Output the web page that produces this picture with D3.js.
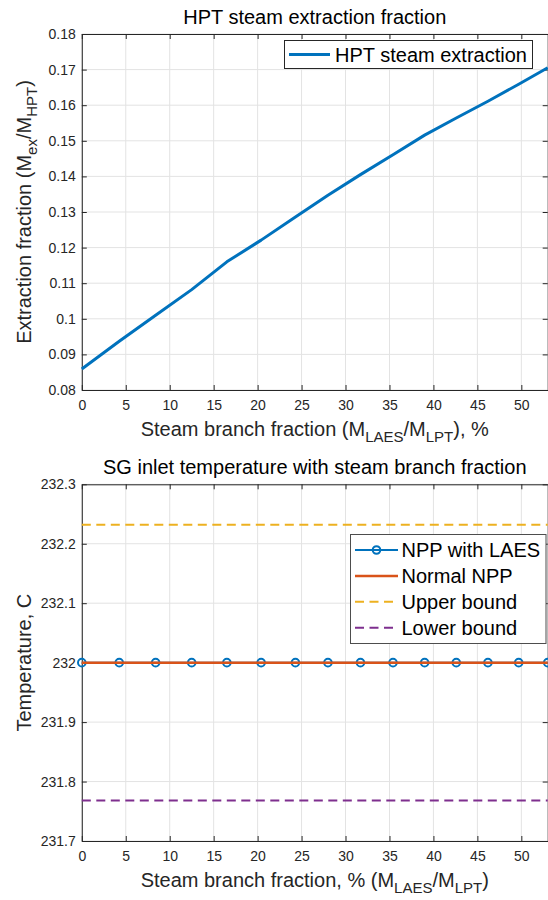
<!DOCTYPE html>
<html>
<head>
<meta charset="utf-8">
<script src="https://cdn.jsdelivr.net/npm/d3@7"></script>
<style>
  body { margin: 0; background: #fff; }
  svg { display: block; font-family: "Liberation Sans", Arial, Helvetica, sans-serif; }
</style>
</head>
<body>
<svg id="fig" width="548" height="900"></svg>
<script>
// Steam branch fraction (%) at each simulated point
const branchFraction = [0, 4.26, 8.4, 12.5, 16.5, 20.4, 24.3, 28.0, 31.7, 35.4, 39.0, 42.6, 46.2, 49.7, 53.0];
// HPT extraction fraction (M_ex / M_HPT)
const hptExtraction = [0.0859, 0.0937, 0.1010, 0.1082, 0.1160, 0.1221, 0.1286, 0.1347, 0.1405, 0.1461, 0.1516, 0.1564, 0.1611, 0.1659, 0.1705];
// SG inlet temperature, C
const sgInletLAES = [232, 232, 232, 232, 232, 232, 232, 232, 232, 232, 232, 232, 232, 232, 232];
const sgInletNormal = [232, 232];
const sgUpperBound = [232.232, 232.232];
const sgLowerBound = [231.768, 231.768];
const boundRange = [0, 53];

const xTicks = [0, 5, 10, 15, 20, 25, 30, 35, 40, 45, 50];
const extractionTicks = [0.08, 0.09, 0.1, 0.11, 0.12, 0.13, 0.14, 0.15, 0.16, 0.17, 0.18];
const temperatureTicks = [231.7, 231.8, 231.9, 232, 232.1, 232.2, 232.3];

// MATLAB default colours
const BLUE = "#0072bd";
const ORANGE = "#d95319";
const YELLOW = "#edb120";
const PURPLE = "#7e2f8e";
const INK = "#262626";
const GRID = "#e3e3e3";

const svg = d3.select("#fig");
svg.append("rect").attr("width", 548).attr("height", 900).attr("fill", "#fff");

const left = 81.8, right = 547.7;
const W = right - left;

function drawPanel(top, bottom, yDomain, yTicks) {
  const H = bottom - top;
  const g = svg.append("g").attr("transform", `translate(${left},${top})`);
  const x = d3.scaleLinear().domain([0, 53]).range([0, W]);
  const y = d3.scaleLinear().domain(yDomain).range([H, 0]);

  // grid
  g.append("g").selectAll("line").data(xTicks).join("line")
    .attr("x1", d => x(d)).attr("x2", d => x(d))
    .attr("y1", 0).attr("y2", H)
    .attr("stroke", GRID).attr("stroke-width", 1);
  g.append("g").selectAll("line").data(yTicks).join("line")
    .attr("x1", 0).attr("x2", W)
    .attr("y1", d => y(d)).attr("y2", d => y(d))
    .attr("stroke", GRID).attr("stroke-width", 1);

  // axes, ticks pointing inward on all four sides
  const style = sel => {
    sel.select(".domain").attr("stroke", INK);
    sel.selectAll(".tick line").attr("stroke", INK);
    sel.selectAll(".tick text").attr("fill", INK).attr("font-size", 14);
  };
  g.append("g").attr("transform", `translate(0,${H})`)
    .call(d3.axisBottom(x).tickValues(xTicks).tickSize(-5).tickSizeOuter(0).tickPadding(10).tickFormat(d => d))
    .call(style);
  g.append("g")
    .call(d3.axisTop(x).tickValues(xTicks).tickSize(-5).tickSizeOuter(0).tickFormat(""))
    .call(style);
  g.append("g")
    .call(d3.axisLeft(y).tickValues(yTicks).tickSize(-5).tickSizeOuter(0).tickPadding(6).tickFormat(d => d))
    .call(style);
  g.append("g").attr("transform", `translate(${W},0)`)
    .call(d3.axisRight(y).tickValues(yTicks).tickSize(-5).tickSizeOuter(0).tickFormat(""))
    .call(style);

  return { g, x, y, H };
}

// subscript-aware text: parts = [[text, isSub], ...]
function richText(sel, parts) {
  let shift = 0;
  parts.forEach(([t, sub]) => {
    const target = sub ? 6 : 0;
    sel.append("tspan")
      .attr("font-size", sub ? 15 : 20)
      .attr("dy", target - shift || null)
      .text(t);
    shift = target;
  });
}

// ---- Top panel: HPT steam extraction fraction ----
const p1 = drawPanel(34, 390, [0.08, 0.18], extractionTicks);

p1.g.append("path")
  .datum(branchFraction.map((d, i) => [d, hptExtraction[i]]))
  .attr("fill", "none")
  .attr("stroke", BLUE)
  .attr("stroke-width", 3)
  .attr("stroke-linejoin", "round")
  .attr("d", d3.line().x(d => p1.x(d[0])).y(d => p1.y(d[1])));

svg.append("text")
  .attr("x", left + W / 2).attr("y", 24)
  .attr("text-anchor", "middle").attr("font-size", 20).attr("fill", "#000")
  .text("HPT steam extraction fraction");

richText(svg.append("text")
  .attr("x", left + W / 2).attr("y", 436)
  .attr("text-anchor", "middle").attr("fill", INK),
  [["Steam branch fraction (M"], ["LAES", true], ["/M"], ["LPT", true], ["), %"]]);

richText(svg.append("text")
  .attr("transform", `translate(31,${(34 + 390) / 2}) rotate(-90)`)
  .attr("text-anchor", "middle").attr("fill", INK),
  [["Extraction fraction (M"], ["ex", true], ["/M"], ["HPT", true], [")"]]);

// legend
const lg1 = svg.append("g");
lg1.append("rect").attr("x", 284.5).attr("y", 40.5).attr("width", 248).attr("height", 28)
  .attr("fill", "#fff").attr("stroke", INK).attr("stroke-width", 1);
lg1.append("line").attr("x1", 289).attr("x2", 330).attr("y1", 54.5).attr("y2", 54.5)
  .attr("stroke", BLUE).attr("stroke-width", 3);
lg1.append("text").attr("x", 335).attr("y", 61.5).attr("font-size", 20).attr("fill", "#000")
  .text("HPT steam extraction");

// ---- Bottom panel: SG inlet temperature ----
const p2 = drawPanel(484.3, 841, [231.7, 232.3], temperatureTicks);
const line2 = d3.line().x(d => p2.x(d[0])).y(d => p2.y(d[1]));

p2.g.append("path")
  .datum(branchFraction.map((d, i) => [d, sgInletLAES[i]]))
  .attr("fill", "none").attr("stroke", BLUE).attr("stroke-width", 2)
  .attr("d", line2);
p2.g.selectAll("circle.mk")
  .data(branchFraction.map((d, i) => [d, sgInletLAES[i]]))
  .join("circle").attr("class", "mk")
  .attr("cx", d => p2.x(d[0])).attr("cy", d => p2.y(d[1])).attr("r", 3.8)
  .attr("fill", "none").attr("stroke", BLUE).attr("stroke-width", 2);
p2.g.append("path")
  .datum(boundRange.map((d, i) => [d, sgInletNormal[i]]))
  .attr("fill", "none").attr("stroke", ORANGE).attr("stroke-width", 2.5)
  .attr("d", line2);
p2.g.append("path")
  .datum(boundRange.map((d, i) => [d, sgUpperBound[i]]))
  .attr("fill", "none").attr("stroke", YELLOW).attr("stroke-width", 2)
  .attr("stroke-dasharray", "9,5.5")
  .attr("d", line2);
p2.g.append("path")
  .datum(boundRange.map((d, i) => [d, sgLowerBound[i]]))
  .attr("fill", "none").attr("stroke", PURPLE).attr("stroke-width", 2)
  .attr("stroke-dasharray", "9,5.5")
  .attr("d", line2);

svg.append("text")
  .attr("x", left + W / 2).attr("y", 474)
  .attr("text-anchor", "middle").attr("font-size", 20).attr("fill", "#000")
  .text("SG inlet temperature with steam branch fraction");

richText(svg.append("text")
  .attr("x", left + W / 2).attr("y", 887)
  .attr("text-anchor", "middle").attr("fill", INK),
  [["Steam branch fraction, % (M"], ["LAES", true], ["/M"], ["LPT", true], [")"]]);

richText(svg.append("text")
  .attr("transform", `translate(31,${(484.3 + 841) / 2}) rotate(-90)`)
  .attr("text-anchor", "middle").attr("fill", INK),
  [["Temperature, C"]]);

// legend
const legend2 = [
  { label: "NPP with LAES", color: BLUE, dash: null, marker: true, width: 2 },
  { label: "Normal NPP", color: ORANGE, dash: null, marker: false, width: 2.5 },
  { label: "Upper bound", color: YELLOW, dash: "9,5.5", marker: false, width: 2 },
  { label: "Lower bound", color: PURPLE, dash: "9,5.5", marker: false, width: 2 }
];
const lg2 = svg.append("g");
lg2.append("rect").attr("x", 350.5).attr("y", 534.5).attr("width", 195.5).attr("height", 109)
  .attr("fill", "#fff").attr("stroke", "#4d4d4d").attr("stroke-width", 1);
legend2.forEach((d, i) => {
  const cy = 550 + i * 25.9;
  lg2.append("line").attr("x1", 355).attr("x2", 398).attr("y1", cy).attr("y2", cy)
    .attr("stroke", d.color).attr("stroke-width", d.width)
    .attr("stroke-dasharray", d.dash);
  if (d.marker) {
    lg2.append("circle").attr("cx", 376.5).attr("cy", cy).attr("r", 3.8)
      .attr("fill", "none").attr("stroke", d.color).attr("stroke-width", 2);
  }
  lg2.append("text").attr("x", 401.5).attr("y", cy + 7).attr("font-size", 20).attr("fill", "#000")
    .text(d.label);
});
</script>
</body>
</html>
